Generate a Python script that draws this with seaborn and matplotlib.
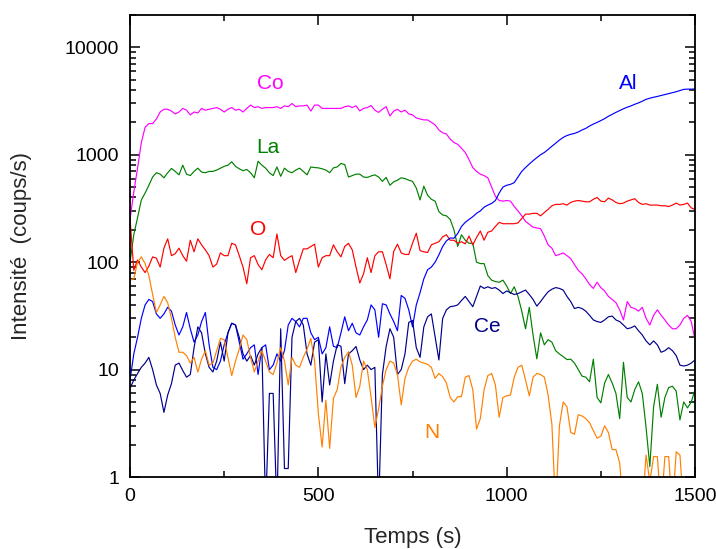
import numpy as np
import pandas as pd
import matplotlib
matplotlib.use("Agg")
import matplotlib.pyplot as plt
import seaborn as sns
from matplotlib.ticker import FixedLocator, LogLocator, MultipleLocator, NullFormatter

# time axis (s), one point every 10 s
temps = np.arange(0, 1501, 10)

co = [250, 450, 750, 1300, 1800, 1950, 1950, 2150, 2500, 2650,
      2650, 2550, 2400, 2500, 2700, 2600, 2350, 2500, 2450, 2700,
      2600, 2650, 2700, 2750, 2650, 2500, 2650, 2750, 2600, 2650,
      2500, 2700, 2900, 2750, 2800, 2700, 2750, 2750, 2750, 2800,
      2700, 2850, 2800, 3000, 2800, 2850, 2850, 2900, 2550, 2900,
      2900, 2700, 2700, 2700, 2700, 2700, 2700, 2800, 2850, 2750,
      2850, 2560, 2700, 2750, 2870, 2600, 2480, 2650, 2800, 2300,
      2550, 2650, 2500, 2600, 2400, 2350, 2200, 2150, 2110, 2110,
      2000, 1900, 1700, 1600, 1560, 1400, 1300, 1250, 1150, 1050,
      900, 760, 700, 660, 640, 610, 500, 410, 375, 370,
      375, 370, 330, 300, 270, 240, 225, 212, 208, 205,
      175, 145, 135, 115, 118, 122, 115, 108, 95, 84,
      78, 70, 62, 57, 65, 58, 54, 48, 45, 42,
      36, 29, 43, 38, 37, 35, 38, 30, 26, 32,
      36, 32, 29, 26, 24, 24, 26, 30, 32, 28, 19]

la = [100, 180, 260, 380, 440, 520, 620, 680, 660, 610,
      680, 745, 700, 650, 800, 660, 640, 700, 750, 690,
      680, 700, 700, 720, 750, 780, 800, 860, 780, 740,
      710, 730, 680, 610, 870, 800, 750, 680, 640, 770,
      630, 750, 700, 680, 720, 750, 700, 650, 770, 760,
      755, 740, 720, 680, 755, 770, 830, 810, 620, 640,
      660, 660, 620, 615, 635, 650, 620, 565, 615, 520,
      560, 580, 610, 600, 580, 565, 490, 380, 510, 420,
      385, 370, 295, 275, 270, 250, 200, 140, 180, 160,
      150, 150, 100, 97, 97, 75, 68, 66, 65, 68,
      60, 51, 59, 48, 35, 24, 38, 21, 12.6, 22,
      17, 19, 18, 15, 14, 13.2, 12.4, 12.5, 11.5, 10,
      8.7, 8.5, 7.7, 12.5, 5.5, 4.9, 7.5, 9, 7.5, 6,
      3.5, 11.7, 5.5, 5, 6.5, 7.7, 6, 2.9, 1.25, 4.5,
      7.3, 3.6, 5.5, 6.8, 7, 6.3, 3.4, 5, 4.4, 5, 6.5]

o = [255, 84, 105, 90, 80, 92, 112, 109, 90, 135,
     165, 115, 120, 135, 115, 102, 160, 125, 165, 145,
     130, 115, 90, 96, 122, 115, 115, 150, 145, 115,
     90, 63, 110, 115, 95, 85, 105, 118, 110, 183,
     115, 104, 110, 115, 80, 104, 133, 133, 140, 147,
     90, 110, 115, 115, 145, 125, 112, 140, 150, 130,
     90, 64, 78, 110, 80, 115, 125, 125, 95, 70,
     126, 147, 122, 118, 118, 150, 186, 128, 125, 123,
     145, 150, 155, 172, 180, 160, 160, 150, 155, 148,
     175, 145, 170, 195, 160, 190, 195, 215, 235, 228,
     228, 228, 228, 232, 255, 280, 280, 285, 285, 270,
     290, 310, 335, 345, 345, 350, 340, 360, 370, 375,
     370, 365, 365, 385, 400, 370, 365, 395, 380, 360,
     350, 355, 370, 380, 390, 360, 345, 350, 340, 340,
     340, 335, 335, 330, 340, 355, 340, 345, 355, 320, 310]

al = [8, 14, 20, 30, 40, 45, 43, 33, 30, 33,
      38, 35, 26, 21, 25, 34, 24, 18, 21, 28,
      34, 17, 10.5, 10, 12, 17, 22, 27, 26, 18,
      12.5, 14, 16, 17, 9, 16, 17, 10, 11, 14,
      12, 15, 26, 30, 28, 25, 30, 30, 22, 19,
      20, 14, 16, 25, 16.5, 16, 22, 31, 23, 27,
      22, 21, 25, 29, 40, 36, 20, 41, 40, 33,
      28, 23, 49, 46, 36, 25, 40, 52, 70, 85,
      90, 100, 117, 140, 158, 168, 167, 185, 215, 235,
      250, 265, 285, 300, 325, 340, 352, 375, 440, 500,
      520, 530, 550, 620, 700, 760, 820, 880, 940, 1000,
      1050, 1120, 1200, 1280, 1370, 1450, 1510, 1550, 1580, 1630,
      1700, 1760, 1850, 1930, 2000, 2080, 2170, 2280, 2380, 2480,
      2580, 2680, 2770, 2850, 2950, 3040, 3150, 3280, 3360, 3430,
      3490, 3560, 3630, 3700, 3780, 3860, 3960, 4060, 4080, 4080, 4100]

ce = [6.7, 8, 9.2, 10.5, 11.5, 13, 10, 7.2, 6, 4,
      5.8, 7.4, 11, 11.5, 9.8, 8.5, 9, 16, 25, 22,
      14, 10.5, 9.5, 12, 18, 12, 22, 27, 26, 20,
      14, 12, 13.5, 11, 14, 16, 0.5, 6, 6, 0.5,
      24, 1.2, 1.2, 20, 28, 30, 26, 14, 11, 18,
      19, 5, 14, 7.2, 12, 17, 16.5, 7.4, 14, 15,
      16.4, 12.3, 10, 11, 10, 10.5, 0.5, 9, 16.4, 24,
      20, 9, 10, 14, 27.5, 28.6, 16, 13, 25, 31,
      33, 20, 12.3, 30, 36, 38.5, 39, 40, 44, 48,
      43, 38.5, 48, 60, 57, 59, 57, 58, 55, 51,
      54, 52, 50, 51, 53, 55, 50, 45, 39, 43,
      48, 53, 56, 58, 57, 55, 48, 43, 37, 38,
      37, 35, 32, 29, 28, 27.5, 29, 31, 31.5, 29,
      28, 26, 24, 24.5, 25.5, 23, 21, 18.5, 17, 18.5,
      17, 14.5, 15, 16, 15, 13.5, 11, 10.8, 11, 11.5, 12.3]

n = [68, 70, 100, 112, 97, 75, 50, 34, 40, 48,
     42, 30, 20, 14.5, 14.5, 13.5, 11.5, 13, 9.5, 12.5,
     15, 11, 11.5, 15, 19.5, 19, 13, 8.8, 12, 15.5,
     21, 19, 13, 9.5, 12, 15, 12, 9.5, 9, 11.5,
     16, 12, 7.2, 13, 11, 10.5, 13, 15.5, 19.5, 12,
     3.9, 1.9, 5.2, 1.85, 5.4, 6.5, 10.6, 13, 14.7, 11,
     5.5, 7, 12, 10, 5.5, 2.9, 4.3, 7, 10, 12,
     11.5, 9, 4.7, 8.3, 10.5, 12, 12.5, 11.8, 11.5, 11.2,
     10.5, 8.3, 9.2, 8.6, 7.5, 5.5, 5, 5.6, 5.6, 8.5,
     8.8, 6.5, 2.8, 3.5, 6.5, 8.8, 9.2, 7.2, 3.6, 5.5,
     5.7, 5.8, 8.5, 10.5, 11, 8, 5.7, 8.5, 9.2, 9,
     8.5, 5.8, 3.1, 0.5, 3.0, 5.0, 4.5, 2.6, 2.5, 3.8,
     3.7, 3.5, 3.2, 2.7, 2.3, 2.4, 3.0, 2.6, 1.8, 1.8,
     1.35, 0.5, 0.5, 0.5, 0.5, 0.5, 0.5, 1.6, 0.9, 1.55,
     1.55, 0.5, 1.55, 1.55, 0.5, 1.72, 1.6, 0.5, 0.5, 0.5, 0.5]

elements = ["Co", "La", "O", "Al", "Ce", "N"]
series = [co, la, o, al, ce, n]
colors = {"Co": "#ff00ff", "La": "#008000", "O": "#ff0000",
          "Al": "#0000ff", "Ce": "#00008b", "N": "#ff8000"}

# label positions (s, coups/s)
label_pos = {"Co": (372, 4600), "La": (366, 1170), "O": (339, 200),
             "Al": (1322, 4600), "Ce": (949, 25), "N": (801, 2.6)}

frames = []
for name, vals in zip(elements, series):
    frames.append(pd.DataFrame({"temps": temps, "intensite": vals, "element": name}))
df = pd.concat(frames, ignore_index=True)

sns.set_style("ticks")
plt.rcParams["font.family"] = ["Liberation Sans", "DejaVu Sans"]

fig = plt.figure(figsize=(7.16, 5.49), dpi=100)
ax = fig.add_axes([0.1816, 0.1311, 0.7891, 0.8416])

sns.lineplot(data=df, x="temps", y="intensite", hue="element", palette=colors,
             hue_order=elements, linewidth=0.85, legend=False, estimator=None,
             sort=False, ax=ax)

ax.set_yscale("log")
ax.set_xlim(0, 1500)
ax.set_ylim(1, 20000)

ax.xaxis.set_major_locator(MultipleLocator(500))
ax.xaxis.set_minor_locator(MultipleLocator(250))
ax.yaxis.set_major_locator(FixedLocator([1, 10, 100, 1000, 10000]))
ax.yaxis.set_minor_locator(LogLocator(base=10, subs=np.arange(2, 10)))
ax.yaxis.set_minor_formatter(NullFormatter())
ax.set_yticklabels(["1", "10", "100", "1000", "10000"])

ax.tick_params(which="both", direction="in", top=True, right=True,
               width=1.1, labelsize=14, pad=8, colors="black")
ax.tick_params(which="major", length=7)
ax.tick_params(which="minor", length=4)
for sp in ax.spines.values():
    sp.set_linewidth(1.3)
    sp.set_color("black")

ax.set_xlabel("Temps (s)", fontsize=16)
ax.set_ylabel("Intensité  (coups/s)", fontsize=16)
ax.xaxis.set_label_coords(0.5, -0.108)
ax.yaxis.set_label_coords(-0.173, 0.5)

for name in elements:
    x, y = label_pos[name]
    ax.text(x, y, name, color=colors[name], fontsize=15, ha="center", va="center")

fig.savefig("out.png", dpi=100)
